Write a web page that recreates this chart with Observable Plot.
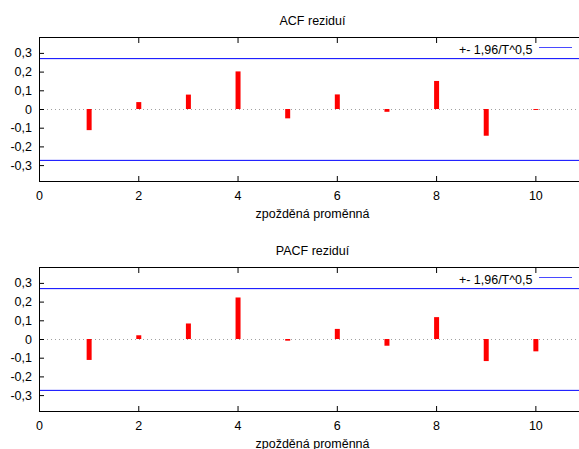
<!DOCTYPE html>
<html><head><meta charset="utf-8">
<script src="https://cdn.jsdelivr.net/npm/d3@7"></script>
<script src="https://cdn.jsdelivr.net/npm/@observablehq/plot@0.6"></script>
<style>
html,body{margin:0;padding:0;background:#fff;overflow:hidden;}
#wrap{width:579px;height:449px;overflow:hidden;position:relative;}
.panel{position:relative;width:579px;height:230px;overflow:hidden;}
.leg{position:absolute;left:539px;top:47px;width:33px;height:1px;background:#4a4aff;}
</style></head><body><div id="wrap"></div>
<script>
const lags = [1, 2, 3, 4, 5, 6, 7, 8, 9, 10];
const acfValues = [-0.113, 0.037, 0.077, 0.201, -0.050, 0.078, -0.015, 0.150, -0.143, -0.005];
const pacfValues = [-0.112, 0.020, 0.083, 0.222, -0.009, 0.054, -0.036, 0.117, -0.118, -0.066];
const bound = 0.272;
const xTicks = [0, 2, 4, 6, 8, 10];
const yTicks = [-0.3, -0.2, -0.1, 0, 0.1, 0.2, 0.3];
const titles = ["ACF reziduí", "PACF reziduí"];
const xLabel = "zpožděná proměnná";
const legendLabel = "+- 1,96/T^0,5";

const fmt = d => d === 0 ? "0" : d.toFixed(1).replace(".", ",");
const wrap = document.getElementById("wrap");

function panel(title, values) {
  const data = lags.map((l, i) => ({lag: l, v: values[i]}));
  const svg = Plot.plot({
    width: 590, height: 230,
    marginLeft: 39, marginRight: 5, marginTop: 37, marginBottom: 49,
    style: {fontFamily: "'Liberation Sans', Arial, sans-serif", fontSize: "12.5px", color: "#000", background: "#fff", maxWidth: "none"},
    x: {domain: [0, 11]},
    y: {domain: [-0.385, 0.385]},
    marks: [
      Plot.ruleY([0], {stroke: "#a0a0a0", strokeDasharray: "1,3"}),
      Plot.ruleY([bound, -bound], {stroke: "#0000ff"}),
      Plot.ruleX(data, {x: "lag", y1: 0, y2: "v", stroke: "#ff0000", strokeWidth: 5}),
      Plot.axisX({anchor: "bottom", ticks: xTicks, tickSize: -5, tickPadding: 15, tickFormat: d => String(d), label: null}),
      Plot.axisX({anchor: "top", ticks: xTicks, tickSize: -5, tickFormat: () => "", label: null}),
      Plot.axisY({anchor: "left", ticks: yTicks, tickSize: -5, tickPadding: 12.5, tickFormat: fmt, label: null}),
      Plot.frame({stroke: "#000"}),
      Plot.text([title], {frameAnchor: "top", lineAnchor: "middle", dy: -16.5, fill: "#000"}),
      Plot.text([xLabel], {frameAnchor: "bottom", lineAnchor: "middle", dy: 32, fill: "#000"}),
      Plot.text([legendLabel], {frameAnchor: "top-right", lineAnchor: "middle", textAnchor: "end", dx: -53, dy: 12.5, fill: "#000"})
    ]
  });
  const div = document.createElement("div");
  div.className = "panel";
  div.appendChild(svg);
  const leg = document.createElement("div");
  leg.className = "leg";
  div.appendChild(leg);
  wrap.appendChild(div);
}
panel(titles[0], acfValues);
panel(titles[1], pacfValues);
</script></body></html>
